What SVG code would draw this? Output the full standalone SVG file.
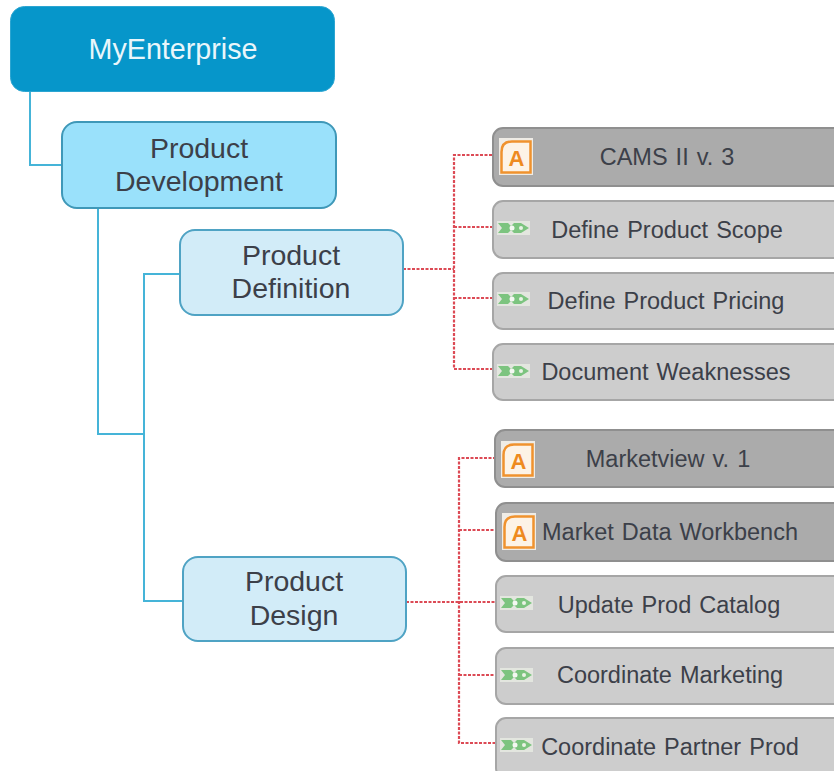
<svg xmlns="http://www.w3.org/2000/svg" width="834" height="771" viewBox="0 0 834 771">
<style>
text{font-family:"Liberation Sans",Arial,sans-serif;text-anchor:middle;fill:#3c4049}
.t{font-size:28.500px}
.s{font-size:23.500px;word-spacing:1.500px}
.blue{fill:none;stroke:#45b4d8;stroke-width:2}
.red{fill:none;stroke:#dc4a55;stroke-width:2.200;stroke-dasharray:3 1.500}
.def{fill:#d2ecf8;stroke:#4fa3c4;stroke-width:2}
.dark{fill:#ababab;stroke:#8f8f8f;stroke-width:2}
.light{fill:#cdcdcd;stroke:#a6a6a6;stroke-width:2}
</style>
<defs>
<g id="iconA">
<rect x="0" y="0" width="34" height="37" fill="#efece6"/>
<path d="M2.500 34.500V14Q2.500 3.500 13 3.500H31.500V34.500Z" fill="#fdf3e6" stroke="#f0922e" stroke-width="2.500"/>
<text x="17.500" y="28" style="font-size:22px;font-weight:bold;fill:#ee8a1f">A</text>
</g>
<g id="iconX">
<rect x="0" y="0" width="33" height="14" fill="#e3e6df"/>
<path d="M1 2H11L14 5L17 2H24L32 7L24 12H17L14 9L11 12H1L5 7Z" fill="#7cc47f"/>
<circle cx="15" cy="7" r="2.500" fill="#f4f8f2"/>
<circle cx="24" cy="7" r="2" fill="#e9f3e6"/>
</g>
</defs>
<g id="connectors">
<path class="blue" d="M30 92V165H62"/>
<path class="blue" d="M98 208V434H144"/>
<path class="blue" d="M180 274H144V601H183"/>
<path class="red" d="M403 269H454"/>
<path class="red" d="M492 155H454V369H496"/>
<path class="red" d="M454 227H497"/>
<path class="red" d="M454 298H497"/>
<path class="red" d="M406 602H499"/>
<path class="red" d="M496 458H459V743H499"/>
<path class="red" d="M459 530H497"/>
<path class="red" d="M459 675H499"/>
</g>
<g id="n-myenterprise">
<rect x="10.500" y="6.500" width="324" height="85" rx="14" fill="#0696ca" stroke="#2ca5d1"/>
<text x="173" y="59" style="font-size:28.700px;fill:#e9f6fb">MyEnterprise</text>
</g>
<g id="n-development">
<rect x="62" y="122" width="274" height="86" rx="15" fill="#9ae1fb" stroke="#3f98b8" stroke-width="2"/>
<text class="t" x="199" y="158">Product</text>
<text class="t" x="199" y="191">Development</text>
</g>
<g id="n-definition">
<rect class="def" x="180" y="230" width="223" height="85" rx="15"/>
<text class="t" x="291" y="265">Product</text>
<text class="t" x="291" y="298">Definition</text>
</g>
<g id="n-design">
<rect class="def" x="183" y="557" width="223" height="84" rx="15"/>
<text class="t" x="294" y="591">Product</text>
<text class="t" x="294" y="625">Design</text>
</g>
<g id="n-cams">
<rect class="dark" x="493" y="128" width="350" height="58" rx="10"/>
<use href="#iconA" x="499" y="138"/>
<text class="s" x="667" y="165">CAMS II v. 3</text>
</g>
<g id="n-scope">
<rect class="light" x="493" y="201" width="350" height="57" rx="10"/>
<use href="#iconX" x="497" y="221"/>
<text class="s" x="667" y="238">Define Product Scope</text>
</g>
<g id="n-pricing">
<rect class="light" x="493" y="273" width="350" height="56" rx="10"/>
<use href="#iconX" x="497" y="292"/>
<text class="s" x="666" y="309">Define Product Pricing</text>
</g>
<g id="n-weak">
<rect class="light" x="493" y="344" width="350" height="56" rx="10"/>
<use href="#iconX" x="497" y="364"/>
<text class="s" x="666" y="380">Document Weaknesses</text>
</g>
<g id="n-marketview">
<rect class="dark" x="495" y="430" width="350" height="57" rx="10"/>
<use href="#iconA" x="501" y="441"/>
<text class="s" x="668" y="467">Marketview v. 1</text>
</g>
<g id="n-workbench">
<rect class="dark" x="496" y="503" width="350" height="58" rx="10"/>
<use href="#iconA" x="502" y="513"/>
<text class="s" x="670" y="540">Market Data Workbench</text>
</g>
<g id="n-catalog">
<rect class="light" x="496" y="576" width="350" height="56" rx="10"/>
<use href="#iconX" x="500" y="596"/>
<text class="s" x="669" y="613">Update Prod Catalog</text>
</g>
<g id="n-marketing">
<rect class="light" x="496" y="648" width="350" height="56" rx="10"/>
<use href="#iconX" x="500" y="668"/>
<text class="s" x="670" y="683">Coordinate Marketing</text>
</g>
<g id="n-partner">
<rect class="light" x="496" y="718" width="350" height="60" rx="10"/>
<use href="#iconX" x="500" y="738"/>
<text class="s" x="670" y="755">Coordinate Partner Prod</text>
</g>
</svg>
